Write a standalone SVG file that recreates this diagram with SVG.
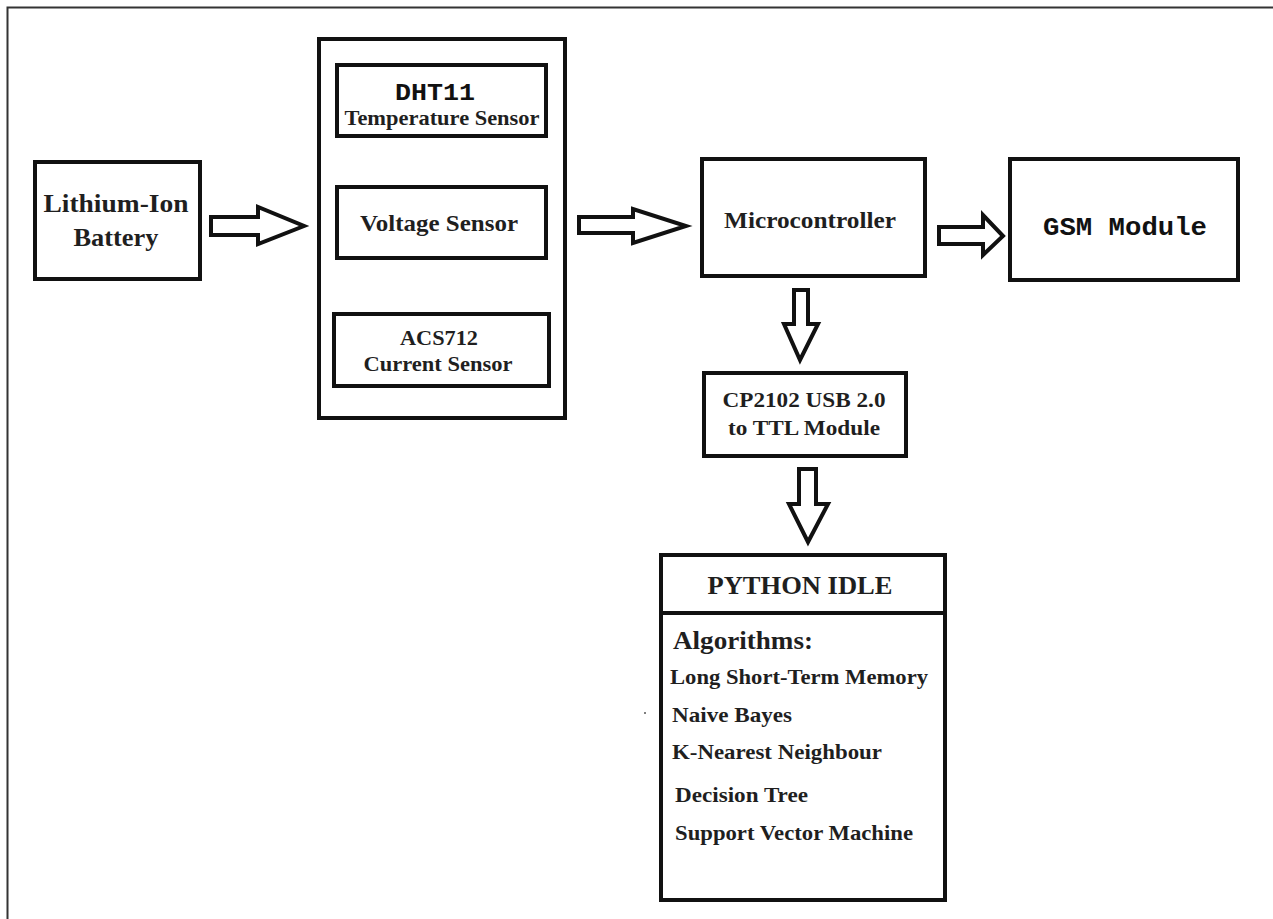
<svg xmlns="http://www.w3.org/2000/svg" width="1273" height="919" viewBox="0 0 1273 919">
<style>
.box{fill:#fff;stroke:#111;stroke-width:4}
.arr{fill:#fff;stroke:#111;stroke-width:4;stroke-linejoin:miter}
.t{font-family:"Liberation Serif","Times New Roman",serif;font-weight:bold;fill:#1f1f1f;text-anchor:middle}
.tl{font-family:"Liberation Serif","Times New Roman",serif;font-weight:bold;fill:#1f1f1f;text-anchor:start}
.m{font-family:"Liberation Mono","Courier New",monospace;font-weight:bold;fill:#111;text-anchor:middle}
</style>
<rect x="0" y="0" width="1273" height="919" fill="#fff"/>
<path d="M7.5,919 V7.5 H1273" fill="none" stroke="#333" stroke-width="2"/>

<g id="battery">
<rect class="box" x="35" y="162" width="165" height="117"/>
<text class="t" x="116" y="212" font-size="25" textLength="145" lengthAdjust="spacingAndGlyphs">Lithium-Ion</text>
<text class="t" x="116" y="246" font-size="25" textLength="85" lengthAdjust="spacingAndGlyphs">Battery</text>
</g>

<g id="sensors">
<rect class="box" x="319" y="39" width="246" height="379"/>
<g id="dht11">
<rect class="box" x="337" y="65" width="209" height="71"/>
<text class="m" x="435" y="100" font-size="24" textLength="80" lengthAdjust="spacingAndGlyphs">DHT11</text>
<text class="t" x="442" y="125" font-size="21" textLength="195" lengthAdjust="spacingAndGlyphs">Temperature Sensor</text>
</g>
<g id="voltage">
<rect class="box" x="337" y="187" width="209" height="71"/>
<text class="t" x="439" y="231" font-size="24" textLength="158" lengthAdjust="spacingAndGlyphs">Voltage Sensor</text>
</g>
<g id="acs712">
<rect class="box" x="334" y="314" width="215" height="72"/>
<text class="t" x="439" y="345" font-size="22" textLength="78" lengthAdjust="spacingAndGlyphs">ACS712</text>
<text class="t" x="438" y="371" font-size="22" textLength="149" lengthAdjust="spacingAndGlyphs">Current Sensor</text>
</g>
</g>

<g id="microcontroller">
<rect class="box" x="702" y="159" width="223" height="117" stroke-width="5"/>
<text class="t" x="810" y="228" font-size="23" textLength="172" lengthAdjust="spacingAndGlyphs">Microcontroller</text>
</g>

<g id="gsm">
<rect class="box" x="1010" y="159" width="228" height="121"/>
<text class="m" x="1125" y="235" font-size="26" textLength="164" lengthAdjust="spacingAndGlyphs">GSM Module</text>
</g>

<g id="cp2102">
<rect class="box" x="704" y="373" width="202" height="83"/>
<text class="t" x="804" y="407" font-size="22" textLength="163" lengthAdjust="spacingAndGlyphs">CP2102 USB 2.0</text>
<text class="t" x="804" y="435" font-size="22" textLength="152" lengthAdjust="spacingAndGlyphs">to TTL Module</text>
</g>

<g id="python">
<rect class="box" x="661" y="555" width="284" height="345" stroke-width="5"/>
<line x1="661" y1="613" x2="945" y2="613" stroke="#111" stroke-width="4"/>
<text class="t" x="800" y="594" font-size="26" textLength="185" lengthAdjust="spacingAndGlyphs">PYTHON IDLE</text>
<text class="tl" x="673" y="649" font-size="26" textLength="140" lengthAdjust="spacingAndGlyphs">Algorithms:</text>
<text class="tl" x="670" y="684" font-size="21" textLength="258" lengthAdjust="spacingAndGlyphs">Long Short-Term Memory</text>
<text class="tl" x="672" y="722" font-size="21" textLength="120" lengthAdjust="spacingAndGlyphs">Naive Bayes</text>
<text class="tl" x="672" y="759" font-size="21" textLength="210" lengthAdjust="spacingAndGlyphs">K-Nearest Neighbour</text>
<text class="tl" x="675" y="802" font-size="21" textLength="133" lengthAdjust="spacingAndGlyphs">Decision Tree</text>
<text class="tl" x="675" y="840" font-size="21" textLength="238" lengthAdjust="spacingAndGlyphs">Support Vector Machine</text>
<circle cx="645" cy="713" r="1" fill="#555"/>
</g>

<g id="connectors">
<polygon class="arr" points="211,217 258,217 258,207 304,226 258,244 258,235 211,235"/>
<polygon class="arr" points="579,217 633,217 633,209 686,226 633,243 633,233 579,233"/>
<polygon class="arr" points="939,227 983,227 983,215 1003,236 983,255 983,244 939,244"/>
<polygon class="arr" points="794,290 808,290 808,324 818,324 800,360 784,324 794,324"/>
<polygon class="arr" points="799,469 816,469 816,504 828,504 808,542 789,504 799,504"/>
</g>
</svg>
